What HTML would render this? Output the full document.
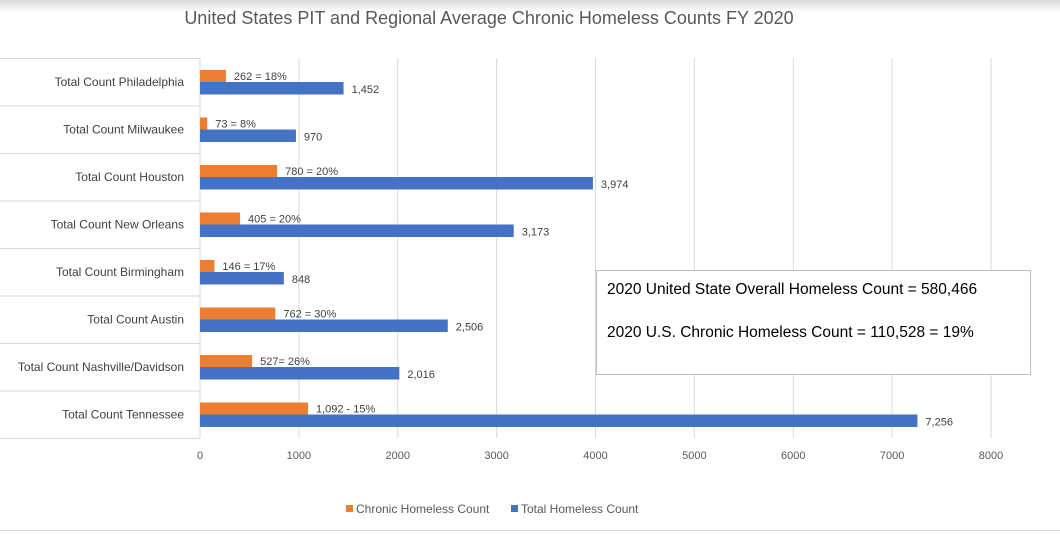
<!DOCTYPE html>
<html><head><meta charset="utf-8"><style>
body{margin:0;width:1060px;height:532px;overflow:hidden;background:#fff;font-family:"Liberation Sans",sans-serif}
svg text{font-family:"Liberation Sans",sans-serif}
</style></head><body>
<svg id="c" width="1060" height="532">
<defs><linearGradient id="sh" x1="0" y1="0" x2="0" y2="1"><stop offset="0" stop-color="#d8d8d8"/><stop offset="1" stop-color="#fff"/></linearGradient></defs>
<rect x="0" y="0" width="1060" height="12" fill="url(#sh)"/>
<text x="489" y="24" text-anchor="middle" font-size="18" fill="#595959">United States PIT and Regional Average Chronic Homeless  Counts FY 2020</text>
<g id="grid"></g><g id="rows"></g><g id="bars"></g><g id="ticks"></g>
<g>
<rect x="596.5" y="270.5" width="434" height="104" fill="#fff" stroke="#bfbfbf"/>
<text x="607" y="294" font-size="15.5" fill="#000">2020 United State Overall Homeless Count  = 580,466</text>
<text x="607" y="337" font-size="15.5" fill="#000">2020 U.S. Chronic Homeless Count = 110,528 = 19%</text>
</g>
<g>
<rect x="346" y="505" width="7" height="7" fill="#ed7d31"/>
<text x="356" y="513" font-size="12" fill="#595959">Chronic Homeless Count</text>
<rect x="511" y="505" width="7" height="7" fill="#4472c4"/>
<text x="521" y="513" font-size="12" fill="#595959">Total Homeless Count</text>
</g>
<line x1="0" y1="530.5" x2="1060" y2="530.5" stroke="#d9d9d9"/>
</svg>
<script>
const categories=["Total Count Philadelphia","Total Count Milwaukee","Total Count Houston","Total  Count New Orleans","Total Count Birmingham","Total Count Austin","Total Count Nashville/Davidson","Total Count Tennessee"];
const chronic=[262,73,780,405,146,762,527,1092];
const total=[1452,970,3974,3173,848,2506,2016,7256];
const chronicLabels=["262 = 18%","73 = 8%","780 = 20%","405 = 20%","146 = 17%","762 = 30%","527= 26%","1,092 - 15%"];
const totalLabels=["1,452","970","3,974","3,173","848","2,506","2,016","7,256"];
const ticks=[0,1000,2000,3000,4000,5000,6000,7000,8000];
const NS="http://www.w3.org/2000/svg";
const x0=200,x1=991,maxV=8000,plotTop=58,band=47.5;
const xs=v=>x0+v/maxV*(x1-x0);
function mk(tag,attrs,parent,txt){const e=document.createElementNS(NS,tag);for(const k in attrs)e.setAttribute(k,attrs[k]);if(txt!==undefined)e.textContent=txt;parent.appendChild(e);return e;}
const grid=document.getElementById('grid'),rows=document.getElementById('rows'),bars=document.getElementById('bars'),tk=document.getElementById('ticks');
ticks.forEach(t=>{
 const l=mk('line',{x1:xs(t),x2:xs(t),y1:plotTop,y2:plotTop+band*categories.length,stroke:'#d9d9d9'},grid);
 
 
 const tx=mk('text',{x:xs(t),y:459,'text-anchor':'middle','font-size':11,fill:'#595959'},tk,String(t));
 
 
});
categories.forEach((c,i)=>{
 const y=plotTop+i*band;
 const ln=mk('line',{x1:0,x2:x0,y1:y+0.5,y2:y+0.5,stroke:'#d9d9d9'},rows);
 
 
 const lb=mk('text',{x:184,y:y+band/2+4,'text-anchor':'end','font-size':12,fill:'#404040'},rows,c);
 
 
 const ro=mk('rect',{x:x0,y:y+12,width:xs(chronic[i])-x0,height:12,fill:'#ed7d31'},bars);
 
 
 const rb=mk('rect',{x:x0,y:y+24,width:xs(total[i])-x0,height:12.5,fill:'#4472c4'},bars);
 
 
 const t1=mk('text',{x:xs(chronic[i])+8,y:y+22,'font-size':11,fill:'#404040'},bars,chronicLabels[i]);
 
 
 const t2=mk('text',{x:xs(total[i])+8,y:y+35,'font-size':11,fill:'#404040'},bars,totalLabels[i]);
 
 
});
const bl=mk('line',{x1:0,x2:x0,y1:plotTop+band*categories.length+0.5,y2:plotTop+band*categories.length+0.5,stroke:'#d9d9d9'},rows);


</script>
</body></html>
